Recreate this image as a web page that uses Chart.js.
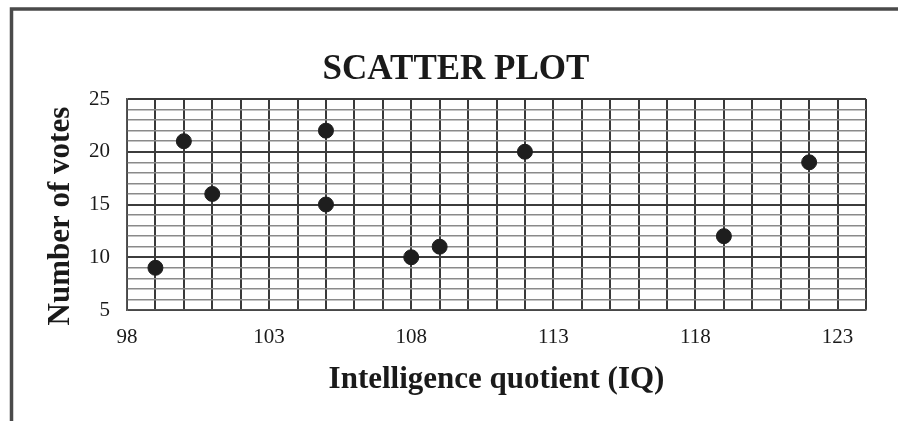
<!DOCTYPE html>
<html>
<head>
<meta charset="utf-8">
<script src="https://cdn.jsdelivr.net/npm/chart.js@4.4.1/dist/chart.umd.min.js"></script>
<style>
  html, body { margin: 0; padding: 0; background: #fff; }
</style>
</head>
<body>
<canvas id="scatterChart" width="898" height="421"></canvas>
<script>
// Data
const iqValues = [99, 100, 101, 105, 105, 108, 109, 112, 119, 122];
const voteCounts = [9, 21, 16, 22, 15, 10, 11, 20, 12, 19];
const xTickLabels = [98, 103, 108, 113, 118, 123];
const yTickLabels = [5, 10, 15, 20, 25];

const serif = "'Liberation Serif', 'Times New Roman', serif";
const points = iqValues.map((x, i) => ({ x: x, y: voteCounts[i] }));

// white background + the scanned frame (left and top edge only)
const framePlugin = {
    id: 'frame',
    beforeDraw(chart) {
        const ctx = chart.ctx;
        ctx.save();
        ctx.fillStyle = '#fff';
        ctx.fillRect(0, 0, chart.width, chart.height);
        ctx.strokeStyle = '#4a4a4a';
        ctx.lineWidth = 3.5;
        ctx.beginPath();
        ctx.moveTo(11.5, chart.height);
        ctx.lineTo(11.5, 9);
        ctx.lineTo(chart.width, 9);
        ctx.stroke();
        ctx.restore();
    }
};

new Chart(document.getElementById('scatterChart'), {
    type: 'scatter',
    data: {
        datasets: [{
            label: 'Votes',
            data: points,
            backgroundColor: '#1e1e1e',
            borderColor: '#1e1e1e',
            pointRadius: 7.5,
            pointHoverRadius: 7.5
        }]
    },
    options: {
        responsive: false,
        animation: false,
        layout: { padding: { left: 14, right: 0, top: 0, bottom: 0 } },
        plugins: {
            legend: { display: false },
            tooltip: { enabled: false },
            title: {
                display: true,
                text: 'SCATTER PLOT',
                color: '#1a1a1a',
                font: { family: serif, size: 35, weight: 'bold' },
                padding: { top: 49, bottom: 8 }
            }
        },
        scales: {
            x: {
                type: 'linear',
                min: 98,
                max: 124,
                afterFit: scale => { scale.height = 111; },
                border: { color: '#555', width: 1.5 },
                grid: {
                    color: '#3a3a3a',
                    lineWidth: 2,
                    drawTicks: false
                },
                ticks: {
                    stepSize: 1,
                    autoSkip: false,
                    maxRotation: 0,
                    padding: 15,
                    color: '#1a1a1a',
                    font: { family: serif, size: 21 },
                    callback: v => xTickLabels.includes(v) ? String(v) : ''
                },
                title: {
                    display: true,
                    text: 'Intelligence quotient (IQ)',
                    color: '#1a1a1a',
                    font: { family: serif, size: 31, weight: 'bold' },
                    padding: { top: 0, bottom: 22 }
                }
            },
            y: {
                min: 5,
                max: 25,
                afterFit: scale => { scale.width = 113; },
                border: { color: '#555', width: 1.5 },
                grid: {
                    color: c => c.tick && c.tick.value % 5 === 0 ? '#3c3c3c' : '#8a8a8a',
                    lineWidth: c => c.tick && c.tick.value % 5 === 0 ? 2 : 1.5,
                    drawTicks: false
                },
                ticks: {
                    stepSize: 1,
                    autoSkip: false,
                    padding: 17,
                    color: '#1a1a1a',
                    font: { family: serif, size: 21 },
                    callback: v => yTickLabels.includes(v) ? String(v) : ''
                },
                title: {
                    display: true,
                    text: 'Number of votes   ',
                    color: '#1a1a1a',
                    font: { family: serif, size: 31, weight: 'bold' },
                    padding: { top: 28, bottom: 0 }
                }
            },
            // empty right-hand strip so the plot ends where the scan's grid ends
            yRight: {
                position: 'right',
                min: 5,
                max: 25,
                afterFit: scale => { scale.width = 32; },
                grid: { display: false },
                border: { display: false },
                ticks: { display: false }
            }
        }
    },
    plugins: [framePlugin]
});
</script>
</body>
</html>
